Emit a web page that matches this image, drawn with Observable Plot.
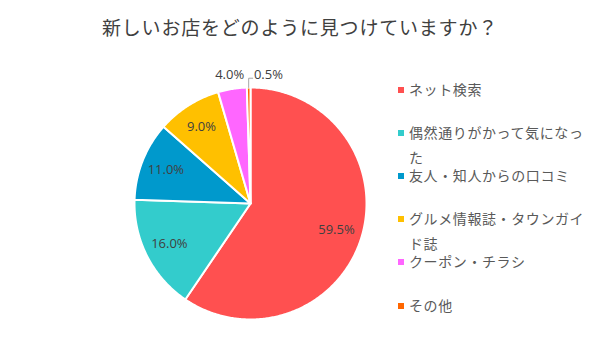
<!DOCTYPE html>
<html>
<head>
<meta charset="utf-8">
<script src="https://cdn.jsdelivr.net/npm/d3@7"></script>
<script src="https://cdn.jsdelivr.net/npm/@observablehq/plot@0.6"></script>
<style>
  body { margin: 0; background: #fff; }
  #wrap { position: relative; width: 600px; height: 359px; overflow: hidden; font-family: "Noto Sans CJK JP", "Noto Sans", sans-serif; }
  #title { position: absolute; left: 0; width: 600px; top: 17px; text-align: center; font-size: 19px; line-height: 20px; letter-spacing: 0.8px; color: #404040; }
  #chart { position: absolute; left: 0; top: 0; }
  .leg { position: absolute; left: 398px; width: 195px; font-size: 14px; line-height: 25px; letter-spacing: 0.6px; color: #595959; }
  .leg .sw { position: absolute; left: 0; top: 10px; width: 6px; height: 6px; }
  .leg .tx { margin-left: 11px; width: 181px; }
</style>
</head>
<body>
<div id="wrap">
  <div id="chart"></div>
  <div id="title"></div>
  <div id="legend"></div>
</div>
<script>
const title = "新しいお店をどのように見つけていますか？";
const categories = ["ネット検索", "偶然通りがかって気になった", "友人・知人からの口コミ", "グルメ情報誌・タウンガイド誌", "クーポン・チラシ", "その他"];
const values = [59.5, 16.0, 11.0, 9.0, 4.0, 0.5];
const colors = ["#ff5050", "#33cccc", "#0099cc", "#ffc000", "#ff66ff", "#ff6600"];

document.getElementById("title").textContent = title;

// pie geometry from the data (clockwise from 12 o'clock)
const arcs = d3.pie().sort(null).value(d => d.value)(categories.map((c, i) => ({cat: c, value: values[i]})));
const polys = [];
arcs.forEach(a => {
  const n = Math.max(2, Math.ceil((a.endAngle - a.startAngle) / 0.01));
  polys.push({cat: a.data.cat, x: 0, y: 0});
  for (let k = 0; k <= n; k++) {
    const t = a.startAngle + (a.endAngle - a.startAngle) * k / n;
    polys.push({cat: a.data.cat, x: Math.sin(t), y: Math.cos(t)});
  }
  polys.push({cat: a.data.cat, x: 0, y: 0});
});

const labels = arcs.map(a => {
  const m = (a.startAngle + a.endAngle) / 2;
  const inside = a.data.value >= 5;
  const tiny = a.data.value < 1;
  const f = inside ? 0.78 : 1.12;
  const lx = Math.sin(m) * f, ly = Math.cos(m) * f;
  return {
    text: a.data.value.toFixed(1) + "%",
    x: tiny ? Math.sin(m) + 0.045 : lx,
    y: tiny ? 1.08 : ly,
    anchor: tiny ? "start" : "middle",
    dx: tiny ? 0 : (inside ? 0 : -6),
    dy: tiny ? -3 : 0,
    tiny, m
  };
});
const leaders = [];
labels.filter(l => l.tiny).forEach((l, i) => {
  leaders.push({id: i, x: Math.sin(l.m), y: Math.cos(l.m)});
  leaders.push({id: i, x: Math.sin(l.m), y: 1.08});
  leaders.push({id: i, x: Math.sin(l.m) + 0.035, y: 1.08});
});

const chart = Plot.plot({
  width: 600,
  height: 359,
  margin: 0,
  x: {domain: [-1, 1], range: [134, 366], axis: null},
  y: {domain: [-1, 1], range: [319, 87], axis: null},
  color: {domain: categories, range: colors},
  style: {fontFamily: "'Open Sans', 'Noto Sans', sans-serif", background: "transparent"},
  marks: [
    Plot.line(polys, {x: "x", y: "y", z: "cat", fill: "cat", stroke: "white", strokeWidth: 2, strokeLinejoin: "round", curve: "linear"}),
    Plot.line(leaders, {x: "x", y: "y", z: "id", stroke: "#a6a6a6", strokeWidth: 1}),
    Plot.text(labels.filter(l => l.anchor === "middle"), {x: "x", y: "y", text: "text", dx: "dx", fill: "#404040", fontSize: 13}),
    Plot.text(labels.filter(l => l.anchor === "start"), {x: "x", y: "y", text: "text", textAnchor: "start", dy: -3, fill: "#404040", fontSize: 13})
  ]
});
document.getElementById("chart").appendChild(chart);

const legend = document.getElementById("legend");
categories.forEach((c, i) => {
  const d = document.createElement("div");
  d.className = "leg";
  d.style.top = (76.5 + i * 43.2) + "px";
  d.innerHTML = `<div class="sw" style="background:${colors[i]}"></div><div class="tx"></div>`;
  d.querySelector(".tx").textContent = c;
  legend.appendChild(d);
});
</script>
</body>
</html>
